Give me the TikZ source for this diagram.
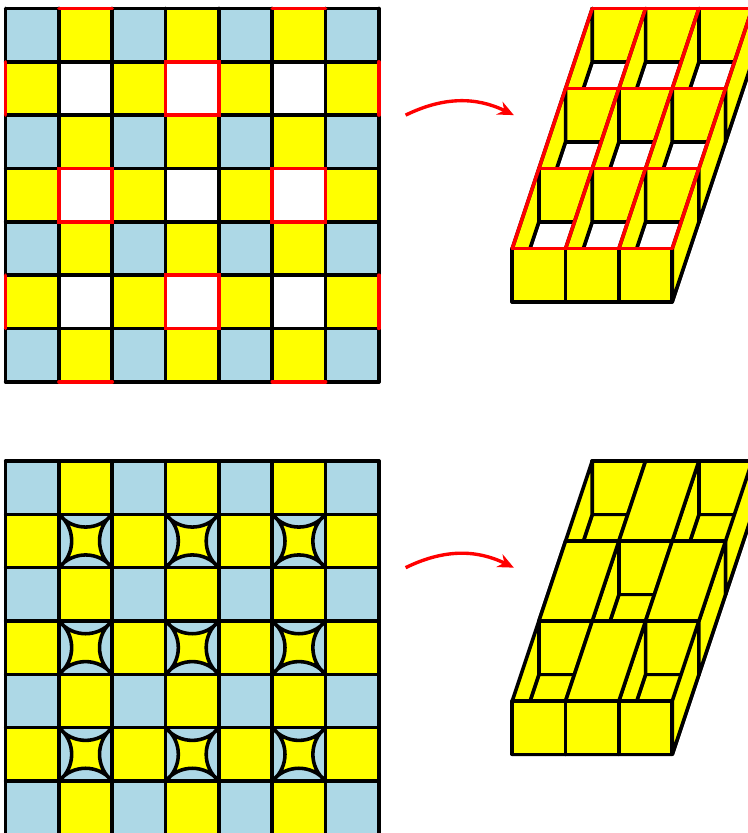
\documentclass[tikz,border=0pt]{standalone}
\usepackage{xcolor}
\usepackage{tikz}
\usetikzlibrary{arrows.meta}
\definecolor{cellblue}{HTML}{ADD8E6}
\definecolor{cellyellow}{RGB}{255,255,0}

\tikzset{
  wall/.style={draw=black, fill=cellyellow, line width=1.9pt, line join=round},
  pit/.style={draw=black, line width=1.9pt, line join=round},
  redline/.style={draw=red, line width=1.9pt, line cap=round},
  bluecell/.style={fill=cellblue},
  yellowcell/.style={fill=cellyellow},
  gridline/.style={draw=black, line width=1.9pt, line cap=round},
  maparrow/.style={draw=red, line width=1.8pt, -{Stealth[length=8.5pt,width=7.5pt]}}
}

% checkerboard: blue, yellow, and the cells at odd/odd left white
\newcommand{\checkerboard}{
  \foreach \i in {0,2,4,6} \foreach \j in {0,2,4,6}
    \fill[bluecell] (\i,\j) rectangle ++(1,1);
  \foreach \i in {1,3,5} \foreach \j in {0,2,4,6} {
    \fill[yellowcell] (\i,\j) rectangle ++(1,1);
    \fill[yellowcell] (\j,\i) rectangle ++(1,1);
  }
}
\newcommand{\gridlines}{
  \foreach \i in {0,...,7} {
    \draw[gridline] (\i,0) -- (\i,7);
    \draw[gridline] (0,\i) -- (7,\i);
  }
}
% box: floor colour #1, then back and left walls of every cell
\newcommand{\boxcells}[1]{
  \foreach \r in {2,1,0} \foreach \c in {0,1,2} {
    \pgfmathsetmacro{\x}{9.5+\c+0.5*\r}
    \pgfmathsetmacro{\y}{2.5+1.5*\r}
    \draw[pit, fill=#1] (\x,\y-1) -- ++(1,0) -- ++(0.5,1.5) -- ++(-1,0) -- cycle;
    \draw[wall] (\x+0.5,\y+1.5) rectangle ++(1,-1);
    \draw[wall] (\x,\y) -- ++(0.5,1.5) -- ++(0,-1) -- ++(-0.5,-1.5) -- cycle;
  }
  \foreach \c in {0,1,2}
    \draw[wall] (9.5+\c,1.5) rectangle ++(1,1);
  \foreach \r in {0,1,2}
    \draw[wall] (12.5+0.5*\r,2.5+1.5*\r) -- ++(0.5,1.5) -- ++(0,-1) -- ++(-0.5,-1.5) -- cycle;
}

\begin{document}
\begin{tikzpicture}
  \clip (-0.105,0.025) rectangle (13.92,15.644);

  % Upper grid and box
  \begin{scope}[yshift=8.485cm]
    \checkerboard
    \gridlines
    \foreach \i/\j in {3/5,1/3,5/3,3/1}
      \draw[redline] (\i,\j) rectangle ++(1,1);
    \foreach \i in {1,5} {
      \draw[redline] (\i,7) -- ++(1,0);
      \draw[redline] (\i,0) -- ++(1,0);
      \draw[redline] (0,\i) -- ++(0,1);
      \draw[redline] (7,\i) -- ++(0,1);
    }
    \boxcells{white}
    \foreach \r in {0,1,2,3}
      \draw[redline] (9.5+0.5*\r,2.5+1.5*\r) -- ++(3,0);
    \foreach \c in {0,1,2,3}
      \draw[redline] (9.5+\c,2.5) -- ++(1.5,4.5);
    \coordinate (upfrom) at (7.5,5);
    \coordinate (upto) at (9.53,5);
    \draw[maparrow] (upfrom) to[bend left=26] (upto);
  \end{scope}

  % Lower grid and box
  \checkerboard
  \foreach \i in {1,3,5} \foreach \j in {1,3,5} {
    \fill[bluecell] (\i,\j) rectangle ++(1,1);
    \draw[pit, fill=cellyellow, looseness=1.05] (\i,\j) to[bend left=51] ++(1,0)
      to[bend left=51] ++(0,1) to[bend left=51] ++(-1,0) to[bend left=51] cycle;
  }
  \gridlines
  \boxcells{cellyellow}
  \foreach \r/\c in {2/1,1/0,1/2,0/1} {
    \pgfmathsetmacro{\x}{9.5+\c+0.5*\r}
    \pgfmathsetmacro{\y}{2.5+1.5*\r}
    \draw[wall] (\x,\y) -- ++(1,0) -- ++(0.5,1.5) -- ++(-1,0) -- cycle;
  }
  \foreach \r in {0,1,2,3}
    \draw[pit] (9.5+0.5*\r,2.5+1.5*\r) -- ++(3,0);
  \coordinate (lowfrom) at (7.5,5);
  \coordinate (lowto) at (9.53,5);
  \draw[maparrow] (lowfrom) to[bend left=26] (lowto);
\end{tikzpicture}
\end{document}
